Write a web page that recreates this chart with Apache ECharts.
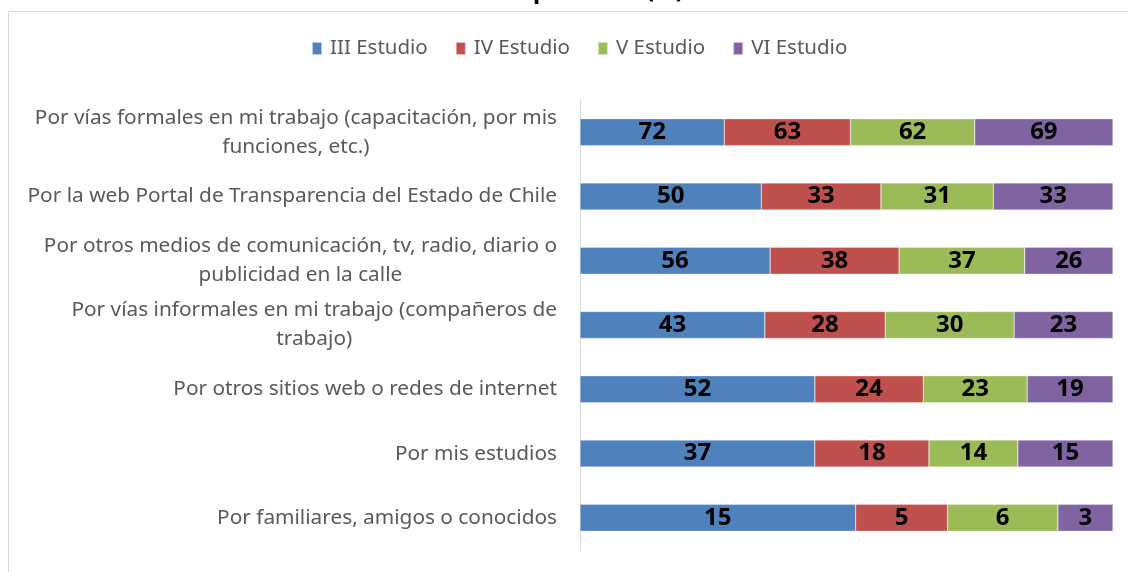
<!DOCTYPE html>
<html>
<head>
<meta charset="utf-8">
<script src="https://cdn.jsdelivr.net/npm/echarts@6/dist/echarts.min.js"></script>
<style>html,body{margin:0;padding:0;background:#fff}#c{width:1128px;height:572px}</style>
</head>
<body>
<div id="c"></div>
<script>
const categories = [
  "Por vías formales en mi trabajo (capacitación, por mis\nfunciones, etc.)",
  "Por la web Portal de Transparencia del Estado de Chile",
  "Por otros medios de comunicación, tv, radio, diario o\npublicidad en la calle",
  "Por vías informales en mi trabajo (compañeros de\ntrabajo)",
  "Por otros sitios web o redes de internet",
  "Por mis estudios",
  "Por familiares, amigos o conocidos"
];
const seriesNames = ["III Estudio", "IV Estudio", "V Estudio", "VI Estudio"];
const estudioIII = [72, 50, 56, 43, 52, 37, 15];
const estudioIV  = [63, 33, 38, 28, 24, 18, 5];
const estudioV   = [62, 31, 37, 30, 23, 14, 6];
const estudioVI  = [69, 33, 26, 23, 19, 15, 3];
const colors = ["#4F81BD", "#C0504D", "#9BBB59", "#8064A2"];

const raw = [estudioIII, estudioIV, estudioV, estudioVI];
const totals = categories.map((_, i) => raw.reduce((s, arr) => s + arr[i], 0));

const chart = echarts.init(document.getElementById('c'));
chart.setOption({
  animation: false,
  backgroundColor: '#fff',
  textStyle: { fontFamily: 'Noto Sans' },
  graphic: [
    { type: 'rect', shape: { x: 8.5, y: 11.5, width: 1300, height: 700 }, style: { fill: 'none', stroke: '#D9D9D9', lineWidth: 1 }, silent: true },
    { type: 'text', x: 533, y: -21, style: { text: 'p', font: 'bold 24px "Noto Sans"', fill: '#000' } },
    { type: 'text', x: 646, y: -21, style: { text: '(%)', font: 'bold 24px "Noto Sans"', fill: '#000' } }
  ],
  legend: {
    left: 306, top: 33,
    itemWidth: 10, itemHeight: 13, itemGap: 27,
    icon: 'rect',
    textStyle: { color: '#595959', fontSize: 20.5, fontFamily: 'Noto Sans', padding: [0, 0, 0, 3] },
    data: seriesNames
  },
  grid: { left: 580, right: 15, top: 100, bottom: 22, containLabel: false },
  xAxis: { type: 'value', min: 0, max: 100, show: false },
  yAxis: {
    type: 'category', inverse: true, data: categories,
    axisLine: { show: true, lineStyle: { color: '#D9D9D9', width: 1 } },
    axisTick: { show: false },
    axisLabel: {
      margin: 23,
      formatter: v => v.split('\n').map(l => '{c|' + l + '}').join('\n'),
      rich: { c: { align: 'center', color: '#595959', fontSize: 20.8, fontFamily: 'Noto Sans', lineHeight: 29 } }
    }
  },
  series: raw.map((arr, k) => ({
    name: seriesNames[k],
    type: 'bar', stack: 'total', barWidth: 27,
    itemStyle: { color: colors[k], borderColor: 'rgba(255,255,255,0.6)', borderWidth: 0.5 },
    label: {
      show: true, position: 'inside', color: '#000', fontWeight: 'bold', fontSize: 24, fontFamily: 'Noto Sans',
      formatter: p => String(arr[p.dataIndex])
    },
    data: arr.map((v, i) => v / totals[i] * 100)
  }))
});
</script>
</body>
</html>
